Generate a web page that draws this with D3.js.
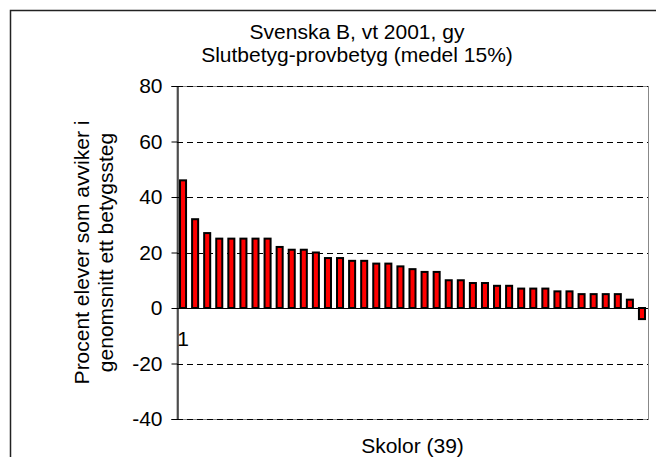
<!DOCTYPE html>
<html>
<head>
<meta charset="utf-8">
<script src="https://cdn.jsdelivr.net/npm/d3@7"></script>
<style>
  body { margin: 0; background: #fff; }
  text { font-family: "Liberation Sans", Arial, sans-serif; fill: #000; }
</style>
</head>
<body>
<div id="chart"></div>
<script>
// procent elever per skola, sorterat
var schools = d3.range(1, 40).map(function(d){ return String(d); });
var values = [46, 32, 27, 25, 25, 25, 25, 25, 22, 21, 21, 20, 18, 18, 17, 17, 16, 16, 15, 14,
              13, 13, 10, 10, 9, 9, 8, 8, 7, 7, 7, 6, 6, 5, 5, 5, 5, 3, -4];
var yTicks = [-40, -20, 0, 20, 40, 60, 80];
var titleLines = ["Svenska B, vt 2001, gy", "Slutbetyg-provbetyg (medel 15%)"];
var yTitleLines = ["Procent elever som avviker i", "genomsnitt ett betygssteg"];
var xTitle = "Skolor (39)";

var width = 656, height = 457;
var plotLeft = 177, plotRight = 648, plotTop = 86, plotBottom = 419;
var fs = 21;

var svg = d3.select("#chart").append("svg")
    .attr("width", width)
    .attr("height", height);

// ram runt diagrammet (beskuren till höger och nedtill)
svg.append("rect")
    .attr("x", 10.5).attr("y", 10.5)
    .attr("width", 720).attr("height", 480)
    .attr("fill", "none")
    .attr("stroke", "#222")
    .attr("stroke-width", 1.5);

var x = d3.scaleBand()
    .domain(schools)
    .range([plotLeft, plotRight])
    .paddingInner(0.5)
    .paddingOuter(0.25);

var y = d3.scaleLinear()
    .domain([-40, 80])
    .range([plotBottom, plotTop]);

// plot area border
svg.append("rect")
    .attr("x", plotLeft).attr("y", plotTop + 0.5)
    .attr("width", plotRight - plotLeft + 0.5).attr("height", plotBottom - plotTop)
    .attr("fill", "none")
    .attr("stroke", "#888")
    .attr("stroke-width", 1);

// gridlines
svg.selectAll("line.grid")
  .data(yTicks)
  .enter()
  .append("line")
  .attr("class", "grid")
  .attr("x1", plotLeft).attr("x2", plotRight)
  .attr("y1", function(d){ return Math.round(y(d)) + 0.5; })
  .attr("y2", function(d){ return Math.round(y(d)) + 0.5; })
  .attr("stroke", "#000")
  .attr("stroke-width", 1)
  .attr("stroke-dasharray", "6,4");

// x axis line at 0
svg.append("line")
    .attr("x1", plotLeft).attr("x2", plotRight)
    .attr("y1", Math.round(y(0)) + 0.5).attr("y2", Math.round(y(0)) + 0.5)
    .attr("stroke", "#000");

// bars
svg.selectAll("rect.bar")
  .data(values)
  .enter()
  .append("rect")
  .attr("class", "bar")
  .attr("x", function(d, i){ return x(schools[i]); })
  .attr("width", x.bandwidth())
  .attr("y", function(d){ return y(Math.max(0, d)); })
  .attr("height", function(d){ return Math.abs(y(d) - y(0)); })
  .attr("fill", "#ff0000")
  .attr("stroke", "#000")
  .attr("stroke-width", 2);

// y axis
var yAxis = d3.axisLeft(y)
    .tickValues(yTicks)
    .tickFormat(function(d){ return String(d); })
    .tickSize(6)
    .tickPadding(9);

var gy = svg.append("g")
    .attr("transform", "translate(" + (plotLeft + 0.5) + ",0)")
    .call(yAxis);
gy.select(".domain").attr("stroke", "#000").attr("stroke-width", 1.2);
gy.selectAll(".tick line").attr("stroke", "#000");
gy.selectAll("text")
    .attr("font-size", fs)
    .attr("font-family", "Liberation Sans, Arial, sans-serif")
    .attr("fill", "#000");

// category label (only first)
svg.append("text")
    .attr("x", x(schools[0]) + x.bandwidth() / 2)
    .attr("y", y(0) + 38)
    .attr("text-anchor", "middle")
    .attr("font-size", fs)
    .text(schools[0]);

// titles
svg.selectAll("text.title")
  .data(titleLines)
  .enter()
  .append("text")
  .attr("class", "title")
  .attr("x", 357)
  .attr("y", function(d, i){ return 38.5 + i * 23.5; })
  .attr("text-anchor", "middle")
  .attr("font-size", fs)
  .text(function(d){ return d; });

svg.append("text")
    .attr("x", (plotLeft + plotRight) / 2)
    .attr("y", 452.5)
    .attr("text-anchor", "middle")
    .attr("font-size", fs)
    .text(xTitle);

svg.selectAll("text.ytitle")
  .data(yTitleLines)
  .enter()
  .append("text")
  .attr("class", "ytitle")
  .attr("transform", function(d, i){
      return "translate(" + (88.5 + i * 24) + "," + ((plotTop + plotBottom) / 2) + ") rotate(-90)";
  })
  .attr("text-anchor", "middle")
  .attr("font-size", fs)
  .text(function(d){ return d; });
</script>
</body>
</html>
